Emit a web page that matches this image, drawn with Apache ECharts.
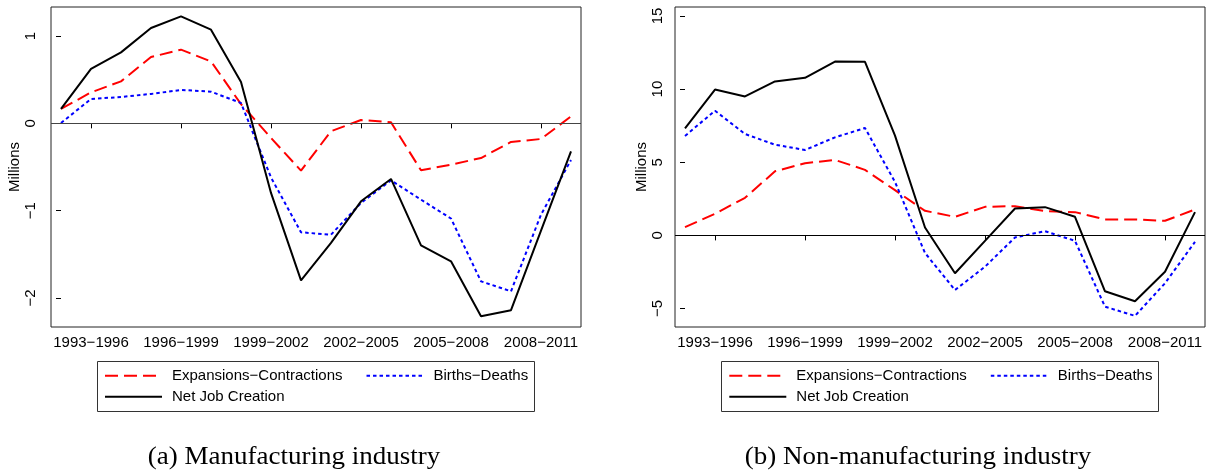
<!DOCTYPE html>
<html>
<head>
<meta charset="utf-8">
<script src="https://cdn.jsdelivr.net/npm/echarts@6/dist/echarts.min.js"></script>
<style>
  html, body { margin: 0; padding: 0; background: #fff; }
  #chart { width: 1208px; height: 472px; }
</style>
</head>
<body>
<div id="chart"></div>
<script>
// Three-year windows, one per point on the horizontal axis
const periods = ['1992−1995', '1993−1996', '1994−1997', '1995−1998', '1996−1999', '1997−2000',
  '1998−2001', '1999−2002', '2000−2003', '2001−2004', '2002−2005', '2003−2006',
  '2004−2007', '2005−2008', '2006−2009', '2007−2010', '2008−2011', '2009−2012'];
// Windows that get a tick label
const labelledPeriods = ['1993−1996', '1996−1999', '1999−2002', '2002−2005', '2005−2008', '2008−2011'];

// Manufacturing industry (millions of jobs)
const mfgExpansions = [0.165, 0.355, 0.481, 0.76, 0.844, 0.71, 0.22, -0.167, -0.542, -0.09, 0.038, 0.012, -0.538, -0.473, -0.397, -0.213, -0.179, 0.08];
const mfgBirths = [0.004, 0.28, 0.302, 0.337, 0.383, 0.363, 0.233, -0.62, -1.248, -1.275, -0.912, -0.653, -0.874, -1.09, -1.81, -1.924, -1.046, -0.42];
const mfgNet = [0.165, 0.623, 0.813, 1.093, 1.226, 1.073, 0.474, -0.797, -1.798, -1.37, -0.893, -0.637, -1.397, -1.58, -2.21, -2.14, -1.23, -0.32];

// Non-manufacturing industry (millions of jobs)
const nonExpansions = [0.57, 1.48, 2.57, 4.38, 4.93, 5.16, 4.48, 3.09, 1.68, 1.27, 1.95, 2.0, 1.66, 1.59, 1.09, 1.09, 1.0, 1.77];
const nonBirths = [6.8, 8.52, 6.93, 6.2, 5.84, 6.7, 7.34, 3.65, -1.2, -3.73, -2.14, -0.14, 0.29, -0.37, -4.87, -5.5, -3.27, -0.44];
const nonNet = [7.31, 9.97, 9.5, 10.52, 10.77, 11.88, 11.86, 6.82, 0.54, -2.59, -0.37, 1.84, 1.93, 1.27, -3.82, -4.5, -2.48, 1.59];

const mfgYTicks = [-2, -1, 0, 1];
const nonYTicks = [-5, 0, 5, 10, 15];

const SERIES_EXP = 'Expansions−Contractions';
const SERIES_BIRTH = 'Births−Deaths';
const SERIES_NET = 'Net Job Creation';

const FONT = '"Liberation Sans", Arial, Helvetica, sans-serif';
const SERIF = '25px "Liberation Serif", "Times New Roman", serif';
const tickValues = labelledPeriods.map(p => periods.indexOf(p));
const pairs = arr => arr.map((v, i) => [i, v]);

function xAxis(gridIndex) {
  return {
    type: 'value', gridIndex,
    min: -1 / 3, max: periods.length - 1 + 1 / 3,
    axisLine: { show: false },
    splitLine: { show: false },
    axisTick: { show: true, customValues: tickValues, length: 5, lineStyle: { color: '#000', width: 1 } },
    axisLabel: {
      customValues: tickValues, margin: 8, color: '#000', fontSize: 15, fontFamily: FONT,
      formatter: v => periods[Math.round(v)]
    }
  };
}

function yAxis(gridIndex, min, max, ticks, labelMargin, nameGap) {
  return {
    type: 'value', gridIndex, min, max,
    name: 'Millions', nameLocation: 'middle', nameGap,
    nameTextStyle: { color: '#000', fontSize: 15, fontFamily: FONT },
    axisLine: { show: false },
    splitLine: { show: false },
    axisTick: { show: true, customValues: ticks, length: 5, lineStyle: { color: '#000', width: 1 } },
    axisLabel: {
      customValues: ticks, rotate: 90, margin: labelMargin, color: '#000', fontSize: 15, fontFamily: FONT,
      formatter: v => (v < 0 ? '−' + Math.abs(v) : String(v))
    }
  };
}

function panelSeries(idx, exp, births, net, zeroColor) {
  return [
    {
      name: SERIES_EXP, type: 'line', xAxisIndex: idx, yAxisIndex: idx,
      data: pairs(exp), symbol: 'none', z: 3,
      lineStyle: { color: '#ff0000', width: 2, type: [13, 6] },
      itemStyle: { color: '#ff0000' },
      markLine: {
        silent: true, symbol: 'none', label: { show: false },
        lineStyle: { color: zeroColor, width: 1, type: 'solid' },
        data: [{ yAxis: 0 }]
      }
    },
    {
      name: SERIES_BIRTH, type: 'line', xAxisIndex: idx, yAxisIndex: idx,
      data: pairs(births), symbol: 'none', z: 4,
      lineStyle: { color: '#0000ff', width: 2, type: [3.5, 3] },
      itemStyle: { color: '#0000ff' }
    },
    {
      name: SERIES_NET, type: 'line', xAxisIndex: idx, yAxisIndex: idx,
      data: pairs(net), symbol: 'none', z: 5,
      lineStyle: { color: '#000', width: 2, type: 'solid' },
      itemStyle: { color: '#000' }
    }
  ];
}

// One row of a two-row key; the marker dot is hidden so only the line sample shows
function legendRow(left, top, names) {
  return {
    left, top, orient: 'horizontal', padding: 0, itemGap: 23,
    itemWidth: 57, itemHeight: 14, selectedMode: false,
    itemStyle: { opacity: 0 },
    data: names,
    textStyle: { color: '#000', fontSize: 15, fontFamily: FONT, lineHeight: 16, padding: [0, 0, 0, 5] }
  };
}

const chart = echarts.init(document.getElementById('chart'), null, { renderer: 'canvas' });

chart.setOption({
  animation: false,
  backgroundColor: '#fff',
  grid: [
    { left: 51, top: 7, width: 530, height: 320, show: true, borderColor: '#222', borderWidth: 1, backgroundColor: 'transparent' },
    { left: 675, top: 7, width: 530, height: 320, show: true, borderColor: '#222', borderWidth: 1, backgroundColor: 'transparent' }
  ],
  xAxis: [xAxis(0), xAxis(1)],
  yAxis: [
    yAxis(0, -2.333, 1.333, mfgYTicks, 13, 28),
    yAxis(1, -6.26, 15.61, nonYTicks, 10, 26)
  ],
  legend: [
    legendRow(104, 367.7, [SERIES_EXP, SERIES_BIRTH]),
    legendRow(104, 388.7, [SERIES_NET]),
    legendRow(728.3, 367.7, [SERIES_EXP, SERIES_BIRTH]),
    legendRow(728.3, 388.7, [SERIES_NET])
  ],
  series: [
    ...panelSeries(0, mfgExpansions, mfgBirths, mfgNet, '#444'),
    ...panelSeries(1, nonExpansions, nonBirths, nonNet, '#000')
  ],
  graphic: [
    { type: 'rect', silent: true, shape: { x: 97.5, y: 361.5, width: 437, height: 50 },
      style: { fill: 'none', stroke: '#333', lineWidth: 1 } },
    { type: 'rect', silent: true, shape: { x: 721.5, y: 361.5, width: 437, height: 50 },
      style: { fill: 'none', stroke: '#333', lineWidth: 1 } },
    { type: 'text', silent: true, x: 294, y: 457, scaleX: 1.08,
      style: { text: '(a) Manufacturing industry', fill: '#000', font: SERIF,
        textAlign: 'center', textVerticalAlign: 'middle' } },
    { type: 'text', silent: true, x: 918, y: 457, scaleX: 1.08,
      style: { text: '(b) Non-manufacturing industry', fill: '#000', font: SERIF,
        textAlign: 'center', textVerticalAlign: 'middle' } }
  ]
});
</script>
</body>
</html>
